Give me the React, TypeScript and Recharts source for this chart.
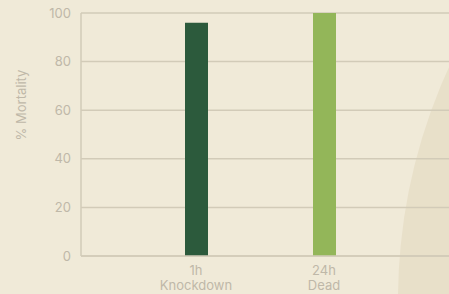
import React from 'react';
import { BarChart, Bar, XAxis, YAxis, CartesianGrid, Cell } from 'recharts';

const categories = ['1h|Knockdown', '24h|Dead'];
const mortality = [96, 100];
const barColors = ['#2C5A3C', '#93B659'];
const yTicks = [0, 20, 40, 60, 80, 100];

const data = categories.map((name, i) => ({ name, value: mortality[i] }));

const BG = '#F0EAD8';
const GRID = '#D2CBB8';
const TEXT = '#BFB8A8';
const FONT = 'Inter, "Liberation Sans", sans-serif';

// two-line category tick: "1h" over "Knockdown"
function CategoryTick(props: any) {
  const { x, y, payload } = props;
  const [top, bottom] = String(payload.value).split('|');
  return (
    <text x={x} y={y + 11} textAnchor="middle" fill={TEXT} fontSize={13} fontFamily={FONT}>
      <tspan x={x}>{top}</tspan>
      <tspan x={x} dy={15}>
        {bottom}
      </tspan>
    </text>
  );
}

function YLabel() {
  return (
    <text
      x={21}
      y={105}
      transform="rotate(-90, 21, 105)"
      textAnchor="middle"
      dominantBaseline="central"
      fill={TEXT}
      fontSize={13}
      fontFamily={FONT}
    >
      % Mortality
    </text>
  );
}

export default function App() {
  return (
    <div
      style={{
        position: 'fixed',
        left: 0,
        top: 0,
        width: 449,
        height: 294,
        overflow: 'hidden',
        background: BG,
      }}
    >
      {/* decorative circle in the lower right */}
      <div
        style={{
          position: 'absolute',
          left: 955 - 557,
          top: 300 - 557,
          width: 557 * 2,
          height: 557 * 2,
          borderRadius: '50%',
          background: '#E8E0C9',
        }}
      />
      <div style={{ position: 'absolute', left: 0, top: 0 }}>
        <BarChart
          width={470}
          height={294}
          data={data}
          margin={{ top: 13, right: 0, bottom: 0, left: 0 }}
        >
          <CartesianGrid vertical={false} stroke={GRID} strokeWidth={1.5} />
          <XAxis
            dataKey="name"
            height={38}
            axisLine={{ stroke: GRID, strokeWidth: 1.5 }}
            tickLine={false}
            tick={<CategoryTick />}
            interval={0}
            padding={{ left: 51, right: 82 }}
          />
          <YAxis
            width={81}
            domain={[0, 100]}
            ticks={yTicks}
            axisLine={{ stroke: GRID, strokeWidth: 1.5 }}
            tickLine={false}
            tickMargin={4}
            tick={{ fill: TEXT, fontSize: 13, fontFamily: FONT }}
            label={<YLabel />}
          />
          <Bar dataKey="value" barSize={23} isAnimationActive={false}>
            {data.map((d, i) => (
              <Cell key={d.name} fill={barColors[i]} />
            ))}
          </Bar>
        </BarChart>
      </div>
    </div>
  );
}
